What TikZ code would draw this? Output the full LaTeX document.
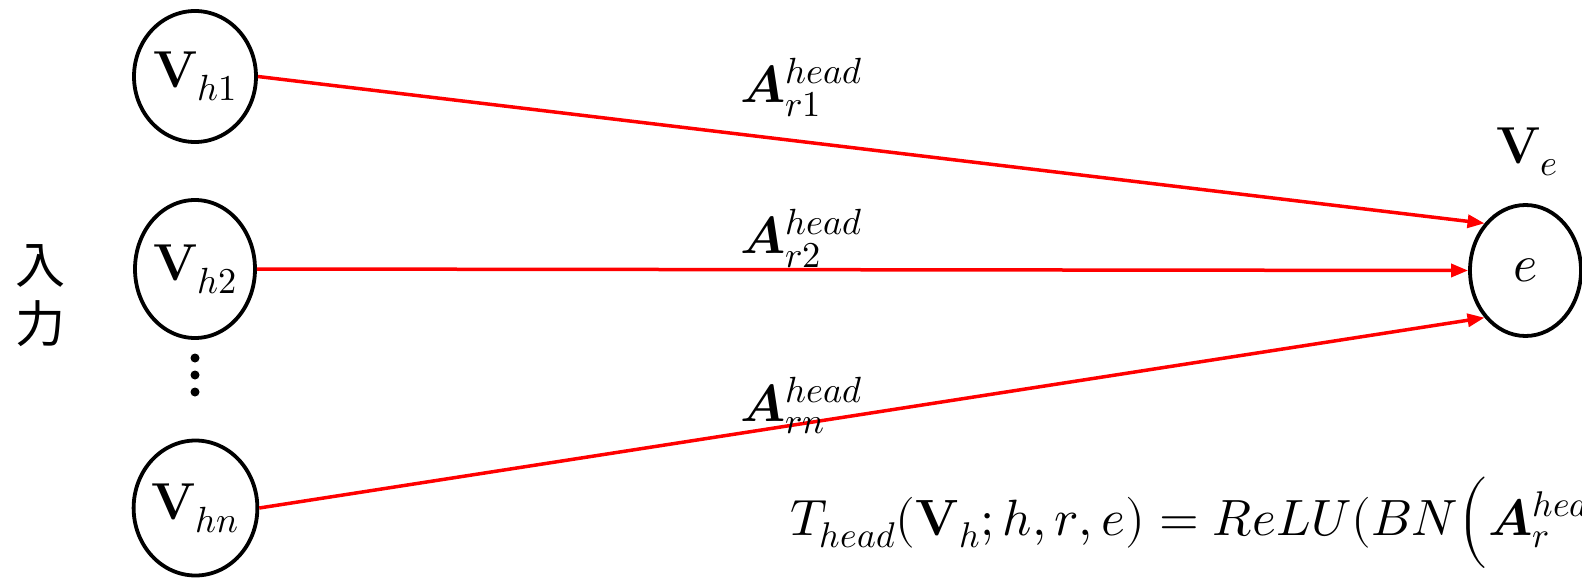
\documentclass[tikz,border=0pt]{standalone}
\usepackage{fontspec}
\usepackage{unicode-math}
\setmathfont{Latin Modern Math}
\newfontfamily\cjk{Noto Sans CJK JP}
\usetikzlibrary{shapes.geometric,arrows.meta}
\tikzset{
  vnode/.style={draw, ellipse, line width=3.8pt, inner sep=0pt, font=\fontsize{52}{60}\selectfont},
  redarrow/.style={draw=red, line width=3.5pt, -{Triangle[length=17pt,width=13pt]}},
  lbl/.style={inner sep=0pt, font=\fontsize{52}{60}\selectfont},
}
\begin{document}
\begin{tikzpicture}[x=1pt,y=-1pt]
\useasboundingbox (0,0) rectangle (1582,578);
\clip (0,0) rectangle (1582,578);
\node[vnode, minimum width=122pt, minimum height=131pt] (v1) at (195,76.5) {$\mathbf{V}_{h1}$};
\node[vnode, minimum width=120pt, minimum height=138pt] (v2) at (195,269) {$\mathbf{V}_{h2}$};
\node[vnode, minimum width=120pt, minimum height=135pt] (vn) at (195.5,508) {$\mathbf{V}_{hn}$};
\node[vnode, minimum width=111pt, minimum height=131pt] (e) at (1525.5,270.5) {$e$};
\node[font=\cjk\fontsize{50}{59}\selectfont, align=center, inner sep=0pt] (in) at (40,296) {入\\力};
\coordinate (d1) at (195,358);
\coordinate (d2) at (195,375);
\coordinate (d3) at (195,392);
\fill (d1) circle (4.5pt) (d2) circle (4.5pt) (d3) circle (4.5pt);
\path[redarrow] (v1.east) -- (e.131);
\path[redarrow] (v2.east) -- (e.west);
\path[redarrow] (vn.east) -- (e.229);
\node[lbl, anchor=base west] (a1) at (740,102) {$\symbfit{A}_{r1}^{head}$};
\node[lbl, anchor=base west] (a2) at (740,253) {$\symbfit{A}_{r2}^{head}$};
\node[lbl, anchor=base west] (an) at (740,421) {$\symbfit{A}_{rn}^{head}$};
\node[lbl, anchor=base west] (ve) at (1496,163) {$\mathbf{V}_{e}$};
\node[inner sep=0pt, anchor=base west, font=\fontsize{51}{60}\selectfont] (f) at (790,535) {$T_{head}(\mathbf{V}_h; h, r, e) = ReLU(BN\Bigl(\symbfit{A}_r^{head}$};
\end{tikzpicture}
\end{document}
